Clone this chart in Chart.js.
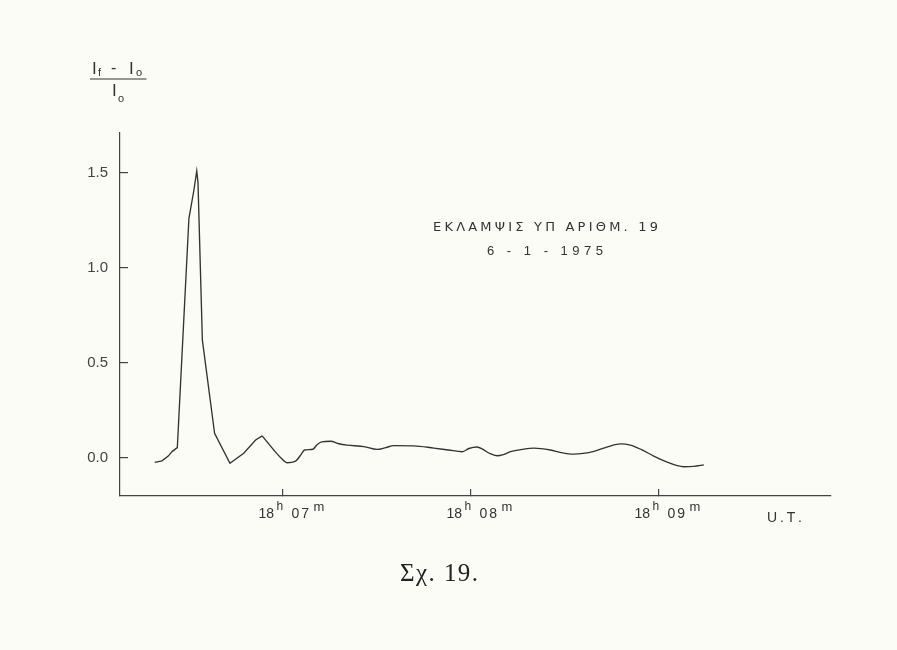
<!DOCTYPE html>
<html>
<head>
<meta charset="utf-8">
<script src="https://cdn.jsdelivr.net/npm/chart.js@4.4.1/dist/chart.umd.min.js"></script>
<style>
  html, body { margin: 0; padding: 0; background: #fcfcf6; }
  #wrap { width: 897px; height: 650px; }
</style>
</head>
<body>
<div id="wrap"><canvas id="c" width="897" height="650"></canvas></div>
<script>
// ---- data (time in seconds after 18h 06m 00s, relative intensity) ----
const times = [19.2, 21.5, 23.5, 24.8, 26.4, 30.1, 31.7, 32.6, 33.0, 34.4, 38.3, 43.2,
  47.6, 51.4, 53.5, 57.2, 59.5, 61.5, 64.0, 66.0, 67.0, 69.7, 71.0, 72.5, 75.3, 78.0,
  80.6, 86.0, 90.2, 93.0, 95.5, 101.9, 108.3, 113.0, 117.4, 119.5, 122.1, 124.0, 126.0,
  128.5, 130.5, 132.8, 136.5, 140.2, 145.5, 149.0, 153.0, 156.0, 159.4, 164.0, 167.9,
  171.0, 174.5, 178.5, 182.8, 186.0, 188.1, 191.3, 194.5];
const values = [-0.023, -0.015, 0.01, 0.035, 0.055, 1.26, 1.41, 1.51, 1.45, 0.62, 0.13, -0.028,
  0.025, 0.095, 0.116, 0.042, 0.0, -0.025, -0.018, 0.02, 0.042, 0.046, 0.07, 0.085, 0.088, 0.075,
  0.068, 0.06, 0.045, 0.055, 0.065, 0.064, 0.052, 0.042, 0.033, 0.05, 0.058, 0.045, 0.025,
  0.012, 0.018, 0.033, 0.045, 0.052, 0.042, 0.028, 0.02, 0.024, 0.035, 0.06, 0.074,
  0.068, 0.045, 0.01, -0.022, -0.04, -0.046, -0.044, -0.036];
const impulsiveEnd = 14; // index where the sharp impulsive part ends and the smooth tail begins
const yTickValues = [0, 0.5, 1.0, 1.5];
const yTickLabels = ["0.0", "0.5", "1.0", "1.5"];
const xTickValues = [60, 120, 180];
const xTickHours = ["18", "18", "18"];
const xTickMinutes = ["07", "08", "09"];
const titleLines = ["ΕΚΛΑΜΨΙΣ ΥΠ ΑΡΙΘΜ. 19", "6 - 1 - 1975"];
const yLabelNum = ["I", "f", "I", "o"];
const xUnit = "U.T.";
const caption = "Σχ. 19.";

const INK = '#333333';
const SANS = '"Liberation Sans", Arial, sans-serif';
const WIDE = '"DejaVu Sans", "Liberation Sans", sans-serif';

function spaced(ctx, text, x, y, target) {
  let w = 0;
  for (const ch of text) w += ctx.measureText(ch).width;
  const n = [...text].length;
  const sp = n > 1 ? (target - w) / (n - 1) : 0;
  let cx = x;
  for (const ch of text) { ctx.fillText(ch, cx, y); cx += ctx.measureText(ch).width + sp; }
}

const decor = {
  id: 'decor',
  beforeDraw(chart) {
    const ctx = chart.ctx;
    ctx.save();
    ctx.fillStyle = '#fcfcf6';
    ctx.fillRect(0, 0, chart.width, chart.height);
    ctx.restore();
  },
  afterDraw(chart) {
    const ctx = chart.ctx;
    const xs = chart.scales.x;
    ctx.save();
    ctx.fillStyle = INK;
    ctx.textAlign = 'left';
    ctx.textBaseline = 'alphabetic';
    // x tick labels with superscripts
    xTickValues.forEach((v, i) => {
      const px = xs.getPixelForValue(v);
      const x0 = px - 24;
      ctx.font = '14px ' + SANS;
      ctx.fillText(xTickHours[i], x0, 518);
      ctx.font = '12px ' + SANS;
      ctx.fillText('h', x0 + 18, 510);
      ctx.font = '14px ' + SANS;
      spaced(ctx, xTickMinutes[i], x0 + 33, 518, 17.5);
      ctx.font = '13px ' + SANS;
      ctx.fillText('m', x0 + 55, 511);
    });
    // axis unit
    ctx.font = '14px ' + SANS;
    spaced(ctx, xUnit, 767, 522, 35);
    // title
    ctx.font = '13px ' + WIDE;
    spaced(ctx, titleLines[0], 433, 231, 225);
    ctx.font = '13px ' + SANS;
    spaced(ctx, titleLines[1], 487, 255, 116);
    // y label fraction
    ctx.font = '17px ' + SANS;
    ctx.fillText(yLabelNum[0], 92, 74);
    ctx.font = '11px ' + SANS;
    ctx.fillText(yLabelNum[1], 98, 76);
    ctx.font = '16px ' + SANS;
    ctx.fillText('-', 111, 73);
    ctx.font = '17px ' + SANS;
    ctx.fillText(yLabelNum[2], 129, 74);
    ctx.font = '11px ' + SANS;
    ctx.fillText(yLabelNum[3], 136, 76);
    ctx.strokeStyle = INK;
    ctx.lineWidth = 1.2;
    ctx.beginPath(); ctx.moveTo(90, 79); ctx.lineTo(146.5, 79); ctx.stroke();
    ctx.font = '17px ' + SANS;
    ctx.fillText(yLabelNum[2], 112, 96);
    ctx.font = '11px ' + SANS;
    ctx.fillText(yLabelNum[3], 118, 102);
    // caption
    ctx.font = '25px "Liberation Serif", "Times New Roman", serif';
    ctx.fillStyle = '#222';
    spaced(ctx, caption, 400, 581, 78);
    ctx.restore();
  }
};

const pts = times.map((t, i) => ({ x: t, y: values[i] }));
const lineStyle = { borderColor: '#333', borderWidth: 1.35, pointRadius: 0, fill: false };

new Chart(document.getElementById('c'), {
  type: 'line',
  data: {
    datasets: [
      Object.assign({ data: pts.slice(0, impulsiveEnd + 1), tension: 0 }, lineStyle),
      Object.assign({ data: pts.slice(impulsiveEnd), cubicInterpolationMode: 'monotone' }, lineStyle)
    ]
  },
  options: {
    responsive: false,
    devicePixelRatio: 1,
    animation: false,
    layout: { padding: { left: 0, top: 133, right: 66, bottom: 154 } },
    plugins: { legend: { display: false }, tooltip: { enabled: false }, title: { display: false } },
    scales: {
      x: {
        type: 'linear',
        min: 8.1,
        max: 235.1,
        afterBuildTicks: s => { s.ticks = xTickValues.map(v => ({ value: v })); },
        afterFit: s => { s.height = 0; },
        ticks: { display: false },
        grid: { display: true, drawOnChartArea: false, drawTicks: true, tickLength: -7, color: '#444', lineWidth: 1.2 },
        border: { display: true, color: '#444', width: 1.2 }
      },
      y: {
        type: 'linear',
        min: -0.2,
        max: 1.71,
        afterBuildTicks: s => { s.ticks = yTickValues.map(v => ({ value: v })); },
        afterFit: s => { s.width = 120; },
        ticks: {
          callback: (v, i) => yTickLabels[i],
          font: { family: '"Liberation Sans", Arial, sans-serif', size: 15 },
          color: '#444',
          padding: 20
        },
        grid: { display: true, drawOnChartArea: false, drawTicks: true, tickLength: -8, color: '#444', lineWidth: 1.2 },
        border: { display: true, color: '#444', width: 1.2 }
      }
    }
  },
  plugins: [decor]
});
</script>
</body>
</html>
